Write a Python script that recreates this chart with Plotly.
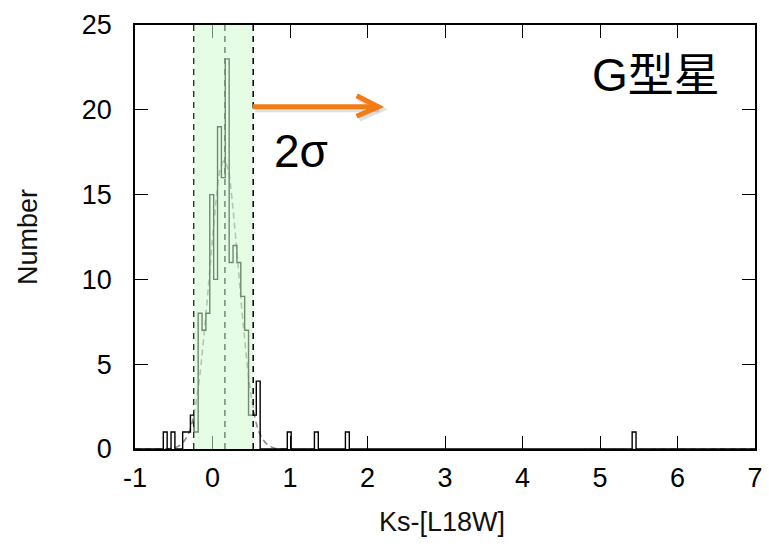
import plotly.graph_objects as go

# ---------------- data ----------------
bin_width = 0.05
bin_left_edges = [-0.635, -0.535, -0.385, -0.335, -0.285, -0.235, -0.185, -0.135,
                  -0.085, -0.035, 0.015, 0.065, 0.115, 0.165, 0.215, 0.265, 0.315,
                  0.365, 0.415, 0.465, 0.515, 0.565, 0.965, 1.315, 1.715, 5.415]
bin_counts = [1, 1, 1, 1, 2, 1, 8, 7, 8, 15, 10, 19, 16, 23, 11, 12, 11,
              9, 7, 2, 2, 4, 1, 1, 1, 1]

# Gaussian fit curve
fit_x = [-1.0, -0.6, -0.5, -0.4, -0.3, -0.2, -0.1, 0.0, 0.05, 0.1, 0.15, 0.2,
         0.25, 0.3, 0.4, 0.5, 0.6, 0.7, 0.8, 0.9, 7.0]
fit_y = [0.0, 0.01, 0.05, 0.3, 1.0, 3.1, 7.2, 12.4, 14.8, 16.5, 17.0, 16.5,
         14.8, 12.4, 7.2, 3.1, 1.0, 0.3, 0.05, 0.0, 0.0]

band_lo, band_mid, band_hi = -0.24, 0.16, 0.525
x_ticks = [-1, 0, 1, 2, 3, 4, 5, 6, 7]
y_ticks = [0, 5, 10, 15, 20, 25]
x_label = "Ks-[L18W]"
y_label = "Number"
title_text = "G型星"
sigma_text = "2σ"
arrow_from = (0.52, 20.18)
arrow_to = (2.14, 20.18)

# ---------------- build step outline ----------------
xmin, xmax = -1.0, 7.0
start = -1.035
n_bins = int(round((7.015 - start) / bin_width))
edges = [round(start + i * bin_width, 4) for i in range(n_bins + 1)]
counts = [0] * n_bins
for le, c in zip(bin_left_edges, bin_counts):
    k = int(round((le - start) / bin_width))
    counts[k] = c
step_x = edges
step_y = counts + [counts[-1]]

font_main = "Liberation Sans, Arial, Helvetica, sans-serif"
font_cjk = "Liberation Sans, Noto Sans CJK JP, sans-serif"

fig = go.Figure()
fig.add_trace(go.Scatter(x=fit_x, y=fit_y, mode="lines", line_shape="spline",
                         line=dict(color="#8a8a8a", width=1.6, dash="6px,4px"),
                         hoverinfo="skip", showlegend=False))
fig.add_trace(go.Scatter(x=step_x, y=step_y, mode="lines", line_shape="hv",
                         line=dict(color="black", width=1.4),
                         hoverinfo="skip", showlegend=False))

orange = "#f27b14"
shadow = "rgba(0,0,0,0.12)"
head_path = (f"M {arrow_to[0]-0.28},{arrow_to[1]+0.65} L {arrow_to[0]},{arrow_to[1]} "
             f"L {arrow_to[0]-0.28},{arrow_to[1]-0.56}")
shadow_dy = -0.15
shadow_dx = 0.03
head_path_shadow = (f"M {arrow_to[0]-0.28+shadow_dx},{arrow_to[1]+0.65+shadow_dy} "
                    f"L {arrow_to[0]+shadow_dx},{arrow_to[1]+shadow_dy} "
                    f"L {arrow_to[0]-0.28+shadow_dx},{arrow_to[1]-0.56+shadow_dy}")

shapes = [
    dict(type="line", xref="x", yref="y", x0=band_lo, x1=band_lo, y0=0, y1=25,
         line=dict(color="black", width=1.5, dash="6px,5px"), layer="above"),
    dict(type="line", xref="x", yref="y", x0=band_mid, x1=band_mid, y0=0, y1=25,
         line=dict(color="black", width=1.5, dash="6px,5px"), layer="above"),
    dict(type="rect", xref="x", yref="y", x0=band_lo, x1=band_hi, y0=0, y1=25,
         fillcolor="rgba(208,250,208,0.55)", line=dict(width=0), layer="above"),
    dict(type="line", xref="x", yref="y", x0=band_hi, x1=band_hi, y0=0, y1=25,
         line=dict(color="black", width=1.5, dash="6px,5px"), layer="above"),
    # arrow shadow
    dict(type="line", xref="x", yref="y", x0=arrow_from[0] + shadow_dx, x1=arrow_to[0] - 0.02 + shadow_dx,
         y0=arrow_from[1] + shadow_dy, y1=arrow_to[1] + shadow_dy,
         line=dict(color=shadow, width=6), layer="above"),
    dict(type="path", xref="x", yref="y", path=head_path_shadow,
         line=dict(color=shadow, width=6), layer="above"),
    # arrow shaft
    dict(type="line", xref="x", yref="y", x0=arrow_from[0], x1=arrow_to[0] - 0.02,
         y0=arrow_from[1], y1=arrow_to[1],
         line=dict(color=orange, width=5), layer="above"),
    # arrow head
    dict(type="path", xref="x", yref="y", path=head_path,
         line=dict(color=orange, width=5), layer="above"),
]

annotations = [
    dict(x=5.72, y=22.05, xref="x", yref="y", text=title_text, showarrow=False,
         font=dict(family=font_cjk, size=46, color="black")),
    dict(x=1.14, y=17.6, xref="x", yref="y", text=sigma_text, showarrow=False,
         font=dict(family=font_main, size=46, color="black")),
    dict(x=0.495, y=-0.172, xref="paper", yref="paper", text=x_label, showarrow=False,
         font=dict(family=font_main, size=27, color="#111"), yanchor="middle"),
    dict(x=-0.1726, y=0.5, xref="paper", yref="paper", text=y_label, showarrow=False,
         textangle=-90, font=dict(family=font_main, size=27, color="#111"),
         xanchor="center", yanchor="middle"),
]

fig.update_layout(
    width=769, height=544,
    margin=dict(l=135, r=14, t=25, b=95, autoexpand=False),
    paper_bgcolor="white", plot_bgcolor="white",
    shapes=shapes, annotations=annotations, showlegend=False,
    xaxis=dict(range=[xmin, xmax], tickvals=x_ticks, ticktext=[str(v) for v in x_ticks],
               ticks="inside", ticklen=13, tickwidth=1.3, tickcolor="black",
               showline=True, linecolor="black", linewidth=1.5, mirror="ticks",
               showgrid=False, zeroline=False, ticklabelstandoff=4, automargin=False,
               tickfont=dict(family=font_main, size=27, color="black")),
    yaxis=dict(range=[0, 25], tickvals=y_ticks, ticktext=[str(v) for v in y_ticks],
               ticks="inside", ticklen=13, tickwidth=1.3, tickcolor="black",
               showline=True, linecolor="black", linewidth=1.5, mirror="ticks",
               showgrid=False, zeroline=False, ticklabelstandoff=16, automargin=False,
               tickfont=dict(family=font_main, size=27, color="black")),
)

fig.write_html("out.html")
